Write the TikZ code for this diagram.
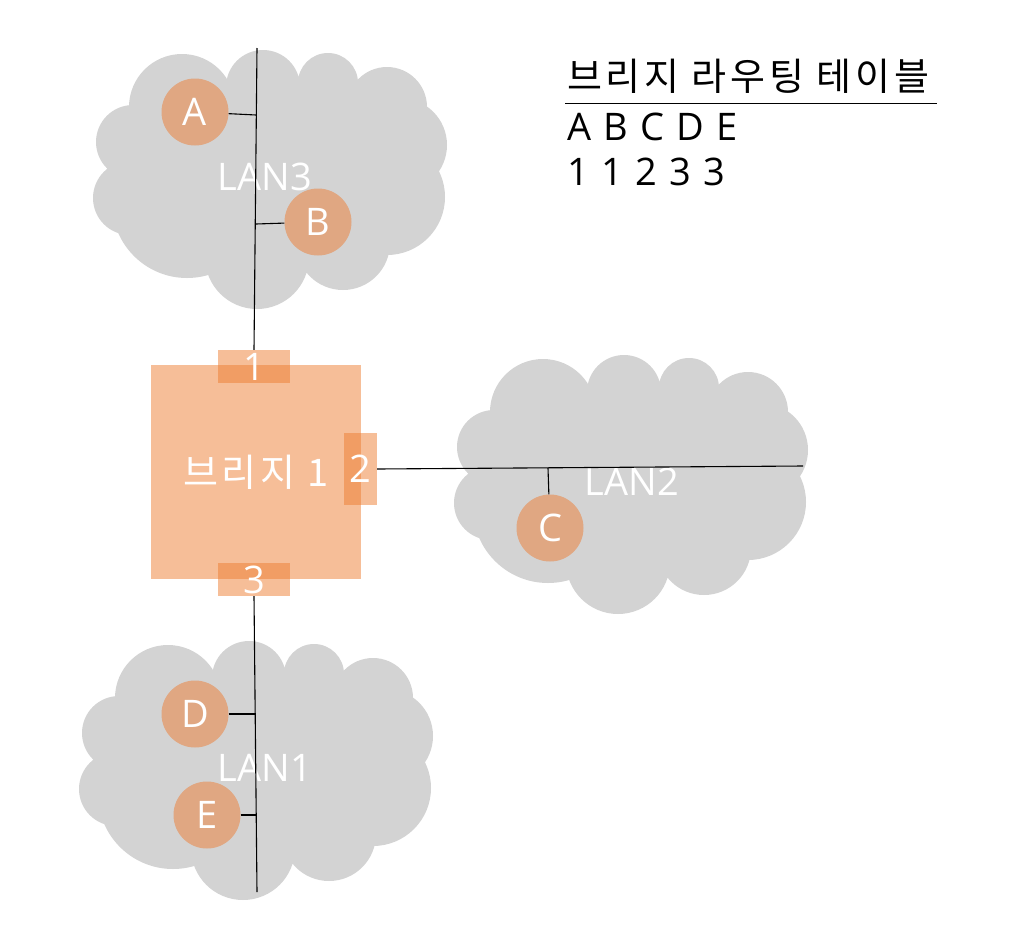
\documentclass[tikz,border=0pt]{standalone}
\usepackage{fontspec}
\setmainfont{Open Sans}[WordSpace=1.25]
\newfontfamily\kr{Noto Sans CJK KR}[LetterSpace=10]
\usepackage{tikz}
\usetikzlibrary{positioning}
\definecolor{CloudGrey}{HTML}{D3D3D3}
\definecolor{PortOrange}{HTML}{ED7D31}
\definecolor{HostTan}{HTML}{E0A782}

% cloud outline, origin at its top left corner
\tikzset{
  pics/lancloud/.style={code={
    \fill[CloudGrey] (89,57) circle (53pt) (170,37) circle (37pt) (235,33) circle (30pt)
      (294,57) circle (40pt) (307,95) circle (47pt) (294,147) circle (58pt)
      (250,193) circle (47pt) (164,207) circle (52pt) (94,153) circle (75pt)
      (37,148) circle (37pt) (40,92) circle (37pt) (177,129) ellipse (130pt and 90pt);
  }}
}

\begin{document}
\begin{tikzpicture}[x=1pt, y=-1pt, font=\fontsize{38}{45}\selectfont]
    \tikzstyle{host} = [circle, fill=HostTan, text=white, minimum size=67pt, inner sep=0pt]
    \tikzstyle{lanlabel} = [text=white, inner sep=0pt]
    \tikzstyle{bridgebox} = [rectangle, fill=PortOrange, fill opacity=0.5, text opacity=1, text=white, minimum width=210pt, minimum height=214pt]
    \tikzstyle{port} = [rectangle, fill=PortOrange, fill opacity=0.5, text opacity=1, text=white, inner sep=0pt]
    \tikzstyle{wire} = [draw, black, line width=1.1pt]

    \useasboundingbox (0,0) rectangle (1029,930);

    \pic at (93,50) {lancloud};
    \pic at (454,355) {lancloud};
    \pic at (79,641) {lancloud};

    \node [lanlabel] (lanthree) at (265,177) {LAN3};
    \node [lanlabel] (lantwo) at (632,482) {LAN2};
    \node [lanlabel] (lanone) at (265,768) {LAN1};

    \node [bridgebox] (bridge) at (256,472) {\kr 브리지 1};
    \node [port, minimum width=72pt, minimum height=33pt] (pone) at (254,366.5) {1};
    \node [port, minimum width=33pt, minimum height=72pt] (ptwo) at (360.5,469) {2};
    \node [port, minimum width=72pt, minimum height=33pt] (pthree) at (254,579.5) {3};

    \node [host] (hosta) at (195,112) {A};
    \node [host] (hostb) at (318,222) {B};
    \node [host] (hostc) at (550,528) {C};
    \node [host] (hostd) at (195,714) {D};
    \node [host] (hoste) at (207,815) {E};

    \coordinate (lanthreetop) at (257,48);
    \coordinate (lantwoend) at (803,466);
    \coordinate (lanonebottom) at (257,892);
    \coordinate (tapa) at (256,115);
    \coordinate (tapb) at (256,224);
    \coordinate (tapc) at (548,468);
    \coordinate (tapd) at (256,714);
    \coordinate (tape) at (256,815);

    \path [wire] (lanthreetop) -- (pone.north);
    \path [wire] (ptwo.east) -- (lantwoend);
    \path [wire] (pthree.south) -- (lanonebottom);
    \path [wire] (hosta) -- (tapa);
    \path [wire] (hostb) -- (tapb);
    \path [wire] (hostc) -- (tapc);
    \path [wire] (hostd) -- (tapd);
    \path [wire] (hoste) -- (tape);

    % routing table
    \node [anchor=base west, inner sep=0pt] (tabletitle) at (567,90) {\kr 브리지 라우팅 테이블};
    \coordinate (ruleleft) at (565,103);
    \coordinate (ruleright) at (937,103);
    \path [draw, black, line width=1pt] (ruleleft) -- (ruleright);
    \node [anchor=base west, inner sep=0pt] (tablehosts) at (567,140) {A B C D E};
    \node [anchor=base west, inner sep=0pt] (tableports) at (567,185) {1 1 2 3 3};
\end{tikzpicture}
\end{document}
